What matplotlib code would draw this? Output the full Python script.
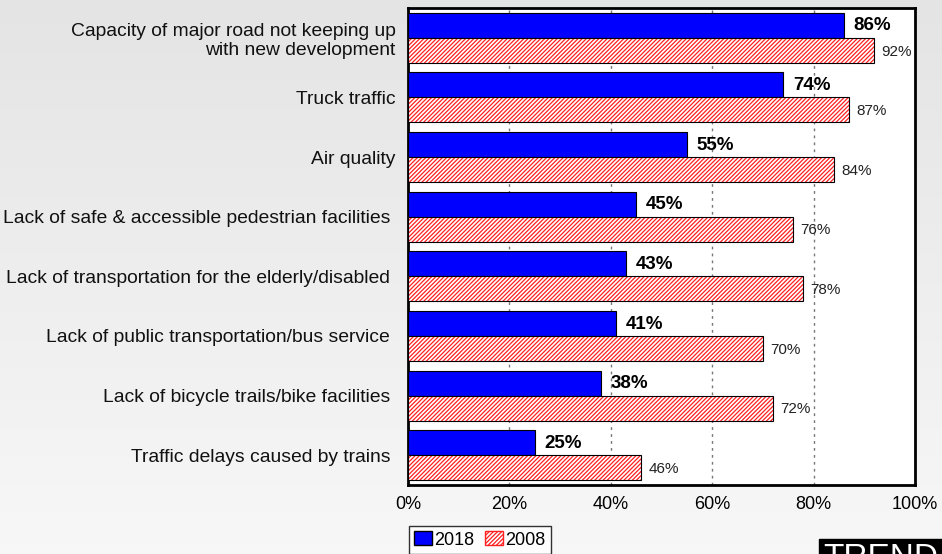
import matplotlib
matplotlib.use("Agg")
import matplotlib.pyplot as plt
import numpy as np
from matplotlib.patches import Patch

categories = [
    "Capacity of major road not keeping up\nwith new development",
    "Truck traffic",
    "Air quality",
    "Lack of safe & accessible pedestrian facilities ",
    "Lack of transportation for the elderly/disabled ",
    "Lack of public transportation/bus service ",
    "Lack of bicycle trails/bike facilities ",
    "Traffic delays caused by trains ",
]
values_2018 = [86, 74, 55, 45, 43, 41, 38, 25]
values_2008 = [92, 87, 84, 76, 78, 70, 72, 46]
xticks = [0, 20, 40, 60, 80, 100]
xtick_labels = ["0%", "20%", "40%", "60%", "80%", "100%"]
series_names = ["2018", "2008"]

plt.rcParams['font.family'] = ['Liberation Sans', 'DejaVu Sans']
plt.rcParams['hatch.linewidth'] = 0.9

fig = plt.figure(figsize=(9.42, 5.54), dpi=100)

# background gradient
bg = fig.add_axes([0, 0, 1, 1], zorder=-10)
yy, xx = np.mgrid[0:1:200j, 0:1:200j]
grad = 0.895 + 0.075 * yy
bg.imshow(np.dstack([grad, grad, grad]), extent=[0, 1, 0, 1], aspect='auto', origin='upper')
bg.axis('off')

ax = fig.add_axes([408/942, 1 - 485/554, (915-408)/942, (485-8)/554])
ax.set_facecolor('white')

n = len(categories)
y = np.arange(n)
h = 0.42
hatch = '////////'

ax.barh(y - h/2, values_2018, height=h, color='#0000ff', edgecolor='black', linewidth=0.8, zorder=3)
ax.barh(y + h/2, values_2008, height=h, color='white', edgecolor='#ff2020', hatch=hatch, linewidth=0, zorder=3)
ax.barh(y + h/2, values_2008, height=h, color='none', edgecolor='black', linewidth=0.8, zorder=4)

for i in range(n):
    ax.text(values_2018[i] + 1.9, y[i] - h/2 + 0.01, f"{values_2018[i]}%", va='center', ha='left',
            fontsize=13.5, fontweight='bold', color='black', zorder=5)
    ax.text(values_2008[i] + 1.4, y[i] + h/2 + 0.02, f"{values_2008[i]}%", va='center', ha='left',
            fontsize=11, color='#222222', zorder=5)

ax.set_xlim(0, 100)
ax.set_ylim(n - 0.5, -0.5)
ax.set_xticks(xticks)
ax.set_xticklabels(xtick_labels, fontsize=13)
ax.set_yticks(y)
ax.set_yticklabels(categories, fontsize=13.9, color='#111111')
ax.tick_params(axis='y', length=0, pad=9)
ax.tick_params(axis='x', length=0, pad=8)
ax.xaxis.grid(True, linestyle=(0, (2, 3)), color='#777777', linewidth=1.0, zorder=0)
ax.set_axisbelow(True)
for s in ax.spines.values():
    s.set_linewidth(2.0)
    s.set_color('black')

# legend
h1 = Patch(facecolor='#0000ff', edgecolor='black', label=series_names[0])
h2 = Patch(facecolor='white', edgecolor='#ff2020', hatch=hatch, label=series_names[1])
leg = fig.legend(handles=[h1, h2], loc='upper left', bbox_to_anchor=(409/942, 1 - 526/554),
                 ncol=2, fontsize=13, frameon=True, fancybox=False, edgecolor='black',
                 handlelength=1.0, handleheight=0.8, handletextpad=0.1, columnspacing=0.6,
                 borderpad=0.3, borderaxespad=0)
leg.get_frame().set_linewidth(1.0)
leg.get_frame().set_facecolor('white')

fig.text(823/942, 1 - 543/554, "TREND", fontsize=24, color='white', va='top', ha='left',
         bbox=dict(facecolor='black', edgecolor='black', pad=3))

fig.savefig("out.png", dpi=100)
